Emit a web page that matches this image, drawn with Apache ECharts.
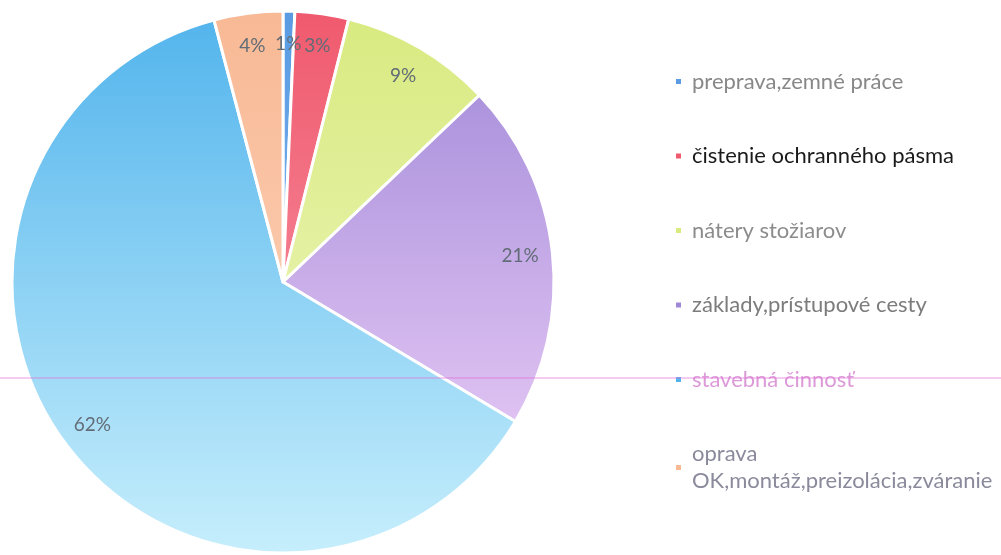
<!DOCTYPE html>
<html>

<head>
    <meta charset="utf-8" />
    <title>pie</title>
    <script src="https://cdn.jsdelivr.net/npm/echarts@6/dist/echarts.min.js"></script>
    <style>
        html, body { margin: 0; padding: 0; background: #fff; }
        #div1 { width: 1001px; height: 555px; }
    </style>
</head>

<body>
    <div id="div1"></div>
    <script type="text/javascript">
        // kategórie a hodnoty (percentá odčítané z grafu)
        var names = ['preprava,zemné práce', 'čistenie ochranného pásma', 'nátery stožiarov',
            'základy,prístupové cesty', 'stavebná činnosť', 'oprava OK,montáž,preizolácia,zváranie'];
        var values = [0.7, 3.2, 9.0, 20.7, 62.3, 4.1];
        var topColors = ['#5a9be2', '#f05a6e', '#d8ea80', '#9f88d8', '#52b4ec', '#f8b995'];
        var bottomColors = ['#8fc3f2', '#f8a0b0', '#f2f8c8', '#f3d4fa', '#c6eefc', '#fdd8c2'];
        var legendColors = ['#888888', '#1a1a1a', '#8c8c8c', '#7c7c7c', '#dc9ad8', '#8a8a9c'];

        var myChart = echarts.init(document.getElementById('div1'));

        var pieData = [];
        var labelData = [];
        var legendData = [];
        for (var i = 0; i < names.length; i++) {
            pieData.push({
                name: names[i],
                value: values[i],
                itemStyle: {
                    color: new echarts.graphic.LinearGradient(0, 12, 0, 552, [
                        { offset: 0, color: topColors[i] },
                        { offset: 1, color: bottomColors[i] }
                    ], true)
                }
            });
            labelData.push({ name: names[i], value: values[i] });
            legendData.push({ name: names[i], textStyle: { color: legendColors[i] } });
        }

        var option = {
            animation: false,
            color: topColors,
            legend: {
                orient: 'vertical',
                left: 674,
                top: 68,
                padding: 0,
                itemGap: 47.5,
                itemWidth: 7,
                itemHeight: 7,
                icon: 'rect',
                data: legendData,
                formatter: function (name) {
                    return name.replace('oprava ', 'oprava\n');
                },
                textStyle: {
                    fontFamily: 'Lato',
                    fontSize: 22,
                    lineHeight: 27,
                    padding: [0, 0, 0, 5]
                }
            },
            graphic: [{
                type: 'line',
                shape: { x1: 0, y1: 378, x2: 1001, y2: 378 },
                style: { stroke: 'rgba(225,110,215,0.35)', lineWidth: 2 },
                z: 100,
                silent: true
            }],
            series: [{
                type: 'pie',
                center: [283, 282],
                radius: 271,
                startAngle: 90,
                clockwise: true,
                label: { show: false },
                labelLine: { show: false },
                itemStyle: { borderColor: '#fff', borderWidth: 3 },
                data: pieData
            }, {
                // priehľadný prstenec len pre popisy pri okraji
                type: 'pie',
                center: [283, 282],
                radius: [200, 271],
                startAngle: 90,
                silent: true,
                itemStyle: { color: 'rgba(0,0,0,0)' },
                label: {
                    position: 'inside',
                    formatter: function (p) { return Math.round(p.percent) + '%'; },
                    color: '#626c76',
                    fontFamily: 'Lato',
                    fontSize: 19
                },
                labelLine: { show: false },
                data: labelData
            }]
        };
        myChart.setOption(option);
    </script>
</body>

</html>
